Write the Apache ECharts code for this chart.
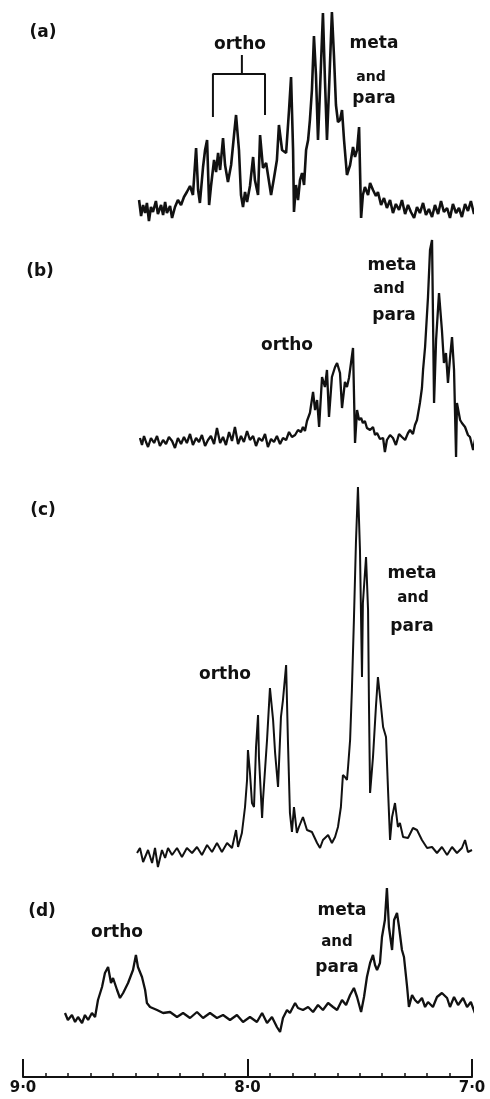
<!DOCTYPE html>
<html>
<head>
<meta charset="utf-8">
<script src="https://cdn.jsdelivr.net/npm/echarts@6/dist/echarts.min.js"></script>
<style>
html, body { margin: 0; padding: 0; background: #fff; }
#chart { width: 490px; height: 1099px; }
</style>
</head>
<body>
<div id="chart"></div>
<script>
// chemical shift (ppm), intensity above baseline (arbitrary units)
const specA = [[8.483,10],[8.474,-6],[8.465,5],[8.456,-3],[8.448,7],[8.439,-11],[8.430,3],[8.421,-2],[8.408,9],[8.399,-4],[8.385,5],[8.376,-5],[8.367,8],[8.359,-3],[8.345,4],[8.336,-8],[8.323,3],[8.310,10],[8.296,5],[8.283,13],[8.270,18],[8.256,24],[8.243,15],[8.229,62],[8.220,20],[8.212,7],[8.198,43],[8.189,60],[8.180,70],[8.171,5],[8.163,23],[8.149,50],[8.140,38],[8.131,57],[8.122,40],[8.109,72],[8.100,45],[8.087,28],[8.073,45],[8.060,75],[8.051,95],[8.038,60],[8.029,15],[8.020,3],[8.011,18],[8.002,8],[7.989,24],[7.975,53],[7.967,30],[7.953,15],[7.944,75],[7.931,42],[7.917,47],[7.895,15],[7.882,32],[7.869,50],[7.860,85],[7.846,60],[7.828,57],[7.815,100],[7.806,133],[7.797,60],[7.793,-2],[7.784,25],[7.775,10],[7.766,30],[7.757,37],[7.748,25],[7.739,60],[7.730,70],[7.722,90],[7.713,120],[7.704,174],[7.695,135],[7.686,70],[7.677,120],[7.664,197],[7.655,130],[7.646,70],[7.637,120],[7.624,198],[7.615,155],[7.606,105],[7.597,88],[7.588,90],[7.579,100],[7.570,70],[7.557,35],[7.543,45],[7.530,63],[7.521,53],[7.512,60],[7.503,83],[7.494,-8],[7.486,15],[7.477,23],[7.463,15],[7.454,27],[7.441,20],[7.428,14],[7.419,18],[7.405,5],[7.392,12],[7.379,2],[7.365,10],[7.352,-3],[7.339,6],[7.325,0],[7.312,10],[7.298,-4],[7.285,5],[7.272,-2],[7.258,-8],[7.245,3],[7.232,-3],[7.218,7],[7.205,-5],[7.192,1],[7.178,-7],[7.165,5],[7.151,-4],[7.138,9],[7.125,-2],[7.111,2],[7.098,-8],[7.085,6],[7.071,-3],[7.058,2],[7.045,-7],[7.031,6],[7.018,-1],[7.005,9],[6.991,-4],[6.982,5],[6.973,-2]];

const specB = [[8.479,5],[8.470,-2],[8.461,7],[8.452,1],[8.443,-4],[8.430,5],[8.416,0],[8.403,7],[8.390,-3],[8.376,3],[8.363,-1],[8.350,6],[8.336,2],[8.323,-5],[8.310,5],[8.296,-1],[8.283,6],[8.270,0],[8.256,9],[8.243,-2],[8.229,5],[8.216,1],[8.203,8],[8.189,-3],[8.176,3],[8.163,7],[8.149,-1],[8.136,15],[8.122,0],[8.109,6],[8.096,-2],[8.082,11],[8.069,2],[8.056,16],[8.042,-1],[8.029,7],[8.016,1],[8.002,12],[7.989,3],[7.975,7],[7.962,-3],[7.949,5],[7.935,2],[7.922,9],[7.909,-4],[7.895,4],[7.882,1],[7.869,7],[7.855,-1],[7.842,5],[7.828,3],[7.815,11],[7.802,6],[7.788,8],[7.775,13],[7.762,11],[7.753,16],[7.744,12],[7.735,22],[7.722,30],[7.708,51],[7.699,33],[7.690,43],[7.681,16],[7.668,66],[7.655,56],[7.646,73],[7.637,26],[7.624,66],[7.610,76],[7.601,80],[7.588,70],[7.579,35],[7.566,61],[7.557,56],[7.548,65],[7.539,80],[7.530,95],[7.521,0],[7.512,33],[7.503,23],[7.494,25],[7.486,20],[7.477,22],[7.468,15],[7.454,13],[7.441,16],[7.432,8],[7.423,10],[7.410,4],[7.396,5],[7.388,-9],[7.379,3],[7.365,8],[7.352,5],[7.339,-2],[7.325,9],[7.312,6],[7.298,3],[7.285,10],[7.276,13],[7.263,9],[7.254,18],[7.245,23],[7.232,40],[7.223,55],[7.218,73],[7.209,96],[7.196,146],[7.187,193],[7.178,203],[7.169,40],[7.160,103],[7.147,150],[7.134,113],[7.125,80],[7.116,90],[7.107,60],[7.098,85],[7.089,106],[7.080,73],[7.071,-14],[7.067,40],[7.053,23],[7.045,20],[7.031,16],[7.018,8],[7.009,6],[6.995,-7],[6.987,3],[6.978,10],[6.969,12],[6.960,18]];

const specC = [[8.492,2],[8.479,7],[8.465,-7],[8.443,5],[8.425,-8],[8.412,7],[8.399,-12],[8.381,5],[8.367,-3],[8.354,7],[8.336,0],[8.314,7],[8.292,-2],[8.270,7],[8.247,2],[8.225,8],[8.203,0],[8.180,10],[8.158,3],[8.136,12],[8.114,3],[8.091,12],[8.069,7],[8.051,25],[8.042,8],[8.025,22],[8.011,48],[8.002,75],[7.998,105],[7.989,82],[7.980,52],[7.971,48],[7.962,108],[7.953,140],[7.949,98],[7.935,37],[7.931,55],[7.913,115],[7.900,167],[7.886,135],[7.877,102],[7.864,68],[7.851,138],[7.842,155],[7.828,190],[7.820,115],[7.811,42],[7.802,23],[7.793,48],[7.780,22],[7.771,28],[7.753,38],[7.735,25],[7.713,23],[7.690,12],[7.677,7],[7.664,15],[7.641,20],[7.624,12],[7.610,18],[7.597,28],[7.584,48],[7.575,80],[7.566,78],[7.557,75],[7.552,88],[7.543,115],[7.535,165],[7.526,235],[7.517,312],[7.508,368],[7.499,305],[7.490,178],[7.486,252],[7.472,298],[7.463,245],[7.459,152],[7.454,62],[7.441,98],[7.428,148],[7.419,178],[7.405,148],[7.396,128],[7.383,118],[7.374,65],[7.365,15],[7.356,38],[7.343,52],[7.330,28],[7.321,32],[7.307,18],[7.285,17],[7.263,27],[7.245,25],[7.223,15],[7.200,7],[7.178,8],[7.156,2],[7.134,8],[7.111,0],[7.089,8],[7.067,2],[7.045,7],[7.031,15],[7.018,3],[7.000,5]];

const specD = [[8.813,2],[8.800,-5],[8.782,0],[8.768,-7],[8.755,-2],[8.737,-8],[8.724,0],[8.710,-5],[8.693,2],[8.679,-2],[8.666,15],[8.648,28],[8.635,42],[8.621,48],[8.608,32],[8.599,37],[8.581,25],[8.568,17],[8.554,22],[8.532,32],[8.510,45],[8.497,60],[8.488,48],[8.470,38],[8.456,25],[8.448,12],[8.434,8],[8.403,5],[8.376,2],[8.345,3],[8.314,-2],[8.287,2],[8.256,-3],[8.225,3],[8.198,-3],[8.167,2],[8.136,-3],[8.109,0],[8.078,-5],[8.047,0],[8.020,-7],[7.989,-2],[7.958,-7],[7.935,2],[7.913,-8],[7.891,-2],[7.869,-12],[7.855,-17],[7.842,-3],[7.824,5],[7.811,2],[7.788,12],[7.775,7],[7.753,5],[7.730,8],[7.708,3],[7.686,10],[7.664,5],[7.641,12],[7.619,8],[7.601,5],[7.579,15],[7.561,10],[7.543,20],[7.526,27],[7.512,18],[7.494,3],[7.481,18],[7.468,38],[7.454,52],[7.441,60],[7.432,50],[7.423,45],[7.410,52],[7.401,78],[7.388,95],[7.379,127],[7.370,88],[7.356,65],[7.347,95],[7.334,102],[7.325,88],[7.312,65],[7.303,58],[7.289,28],[7.281,8],[7.267,20],[7.254,15],[7.241,12],[7.223,17],[7.209,8],[7.196,13],[7.174,8],[7.156,18],[7.134,22],[7.111,17],[7.098,8],[7.080,18],[7.062,10],[7.040,17],[7.022,8],[7.005,13],[6.987,2]];

// bracket over the ortho multiplet in (a)
const orthoBracket = [[8.154,93],[8.154,136],[7.922,136],[7.922,95]];
const orthoStem = [[8.025,136],[8.025,155]];

const axisTicks = [9.0, 8.0, 7.0];

const ink = "#111";
const font = '"DejaVu Sans", sans-serif';

let myChart = echarts.init(document.getElementById("chart"));

// grid layout: [top, height, yMin, yMax] ; one grid per spectrum
const panels = [
  [0, 230, -20, 210],
  [230, 230, -17, 213],
  [470, 400, -15, 385],
  [870, 207, -62, 145]
];

function label(text, x, y, size) {
  return {
    type: "text",
    x: x,
    y: y,
    style: {
      text: text,
      fill: ink,
      font: "bold " + size + "px " + font,
      align: "center",
      verticalAlign: "middle"
    }
  };
}

function trace(data, i, w) {
  return {
    type: "line",
    xAxisIndex: i,
    yAxisIndex: i,
    data: data,
    showSymbol: false,
    clip: false,
    lineStyle: { color: ink, width: w }
  };
}

myChart.setOption({
  animation: false,
  backgroundColor: "#fff",
  grid: panels.map(p => ({ left: 23, right: 18, top: p[0], height: p[1] })),
  xAxis: panels.map((p, i) => {
    const last = i === panels.length - 1;
    return {
      type: "value",
      gridIndex: i,
      min: 7,
      max: 9,
      interval: 1,
      inverse: true,
      show: last,
      axisLine: { onZero: false, lineStyle: { color: ink, width: 2 } },
      axisTick: { inside: true, length: 18, lineStyle: { color: ink, width: 2 } },
      minorTick: { show: true, splitNumber: 10, length: 4, lineStyle: { color: ink, width: 1.5 } },
      splitLine: { show: false },
      axisLabel: {
        margin: 4,
        color: ink,
        fontSize: 15,
        fontWeight: "bold",
        fontFamily: font,
        customValues: axisTicks,
        formatter: v => v.toFixed(1).replace(".", "\u00b7")
      }
    };
  }),
  yAxis: panels.map((p, i) => ({
    type: "value",
    gridIndex: i,
    min: p[2],
    max: p[3],
    show: false
  })),
  series: [
    trace(specA, 0, 2.6),
    trace(specB, 1, 2.3),
    trace(specC, 2, 2),
    trace(specD, 3, 2.3),
    trace(orthoBracket, 0, 2),
    trace(orthoStem, 0, 2)
  ],
  graphic: [
    label("(a)", 43, 33, 17),
    label("ortho", 240, 45, 17),
    label("meta", 374, 44, 17),
    label("and", 371, 77, 14),
    label("para", 374, 99, 17),

    label("(b)", 40, 272, 17),
    label("ortho", 287, 346, 17),
    label("meta", 392, 266, 17),
    label("and", 389, 289, 15),
    label("para", 394, 316, 17),

    label("(c)", 43, 511, 17),
    label("ortho", 225, 675, 17),
    label("meta", 412, 574, 17),
    label("and", 413, 598, 15),
    label("para", 412, 627, 17),

    label("(d)", 42, 912, 17),
    label("ortho", 117, 933, 17),
    label("meta", 342, 911, 17),
    label("and", 337, 942, 15),
    label("para", 337, 968, 17)
  ]
});
</script>
</body>
</html>
